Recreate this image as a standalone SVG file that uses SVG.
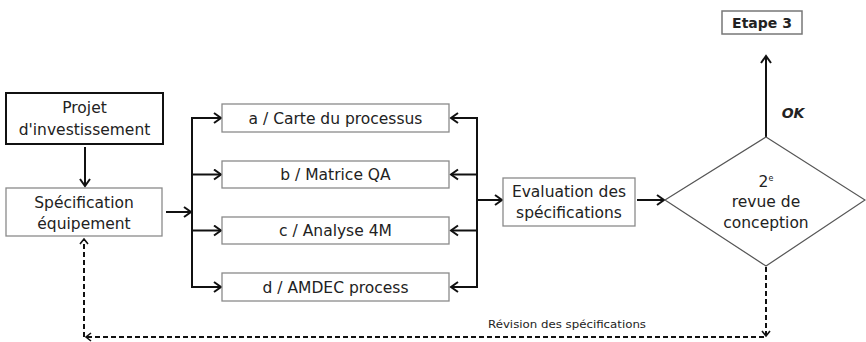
<svg xmlns="http://www.w3.org/2000/svg" width="866" height="342" viewBox="0 0 866 342">
<style>
text{font-family:"DejaVu Sans","Liberation Sans",sans-serif;fill:#222;text-anchor:middle}
.t{font-size:15.5px}
.box{fill:#fff;stroke:#8a8a8a;stroke-width:1.3}
.c{fill:none;stroke:#111;stroke-width:2}
.d{fill:none;stroke:#111;stroke-width:2;stroke-dasharray:5,3}
</style>
<defs>
<marker id="ah" markerUnits="userSpaceOnUse" markerWidth="14" markerHeight="14" refX="9" refY="6" orient="auto">
<path d="M2,1 L9,6 L2,11" fill="none" stroke="#111" stroke-width="2"/>
</marker>
<marker id="ahs" markerUnits="userSpaceOnUse" markerWidth="12" markerHeight="12" refX="7" refY="5" orient="auto">
<path d="M2,1 L7,5 L2,9" fill="none" stroke="#111" stroke-width="1.6"/>
</marker>
</defs>
<g id="connectors">
<line class="c" x1="85" y1="147" x2="85" y2="186" marker-end="url(#ah)"/>
<line class="c" x1="166" y1="212" x2="191" y2="212" marker-end="url(#ah)"/>
<line class="c" x1="192" y1="117" x2="192" y2="288"/>
<line class="c" x1="192" y1="118" x2="221" y2="118" marker-end="url(#ah)"/>
<line class="c" x1="192" y1="174.5" x2="221" y2="174.5" marker-end="url(#ah)"/>
<line class="c" x1="192" y1="230.5" x2="221" y2="230.5" marker-end="url(#ah)"/>
<line class="c" x1="192" y1="287" x2="221" y2="287" marker-end="url(#ah)"/>
<line class="c" x1="477" y1="117" x2="477" y2="288"/>
<line class="c" x1="477" y1="118" x2="451" y2="118" marker-end="url(#ah)"/>
<line class="c" x1="477" y1="174.5" x2="451" y2="174.5" marker-end="url(#ah)"/>
<line class="c" x1="477" y1="230.5" x2="451" y2="230.5" marker-end="url(#ah)"/>
<line class="c" x1="477" y1="287" x2="451" y2="287" marker-end="url(#ah)"/>
<line class="c" x1="477" y1="200" x2="502" y2="200" marker-end="url(#ah)"/>
<line class="c" x1="637" y1="200" x2="664" y2="200" marker-end="url(#ah)"/>
<line class="c" x1="766" y1="137" x2="766" y2="56" marker-end="url(#ah)"/>
<line class="d" x1="766" y1="267" x2="766" y2="336" marker-end="url(#ahs)"/>
<line class="d" x1="764" y1="337" x2="86" y2="337" marker-end="url(#ahs)"/>
<line class="d" x1="84" y1="337" x2="84" y2="239" marker-end="url(#ahs)"/>
<text x="567" y="328" style="font-size:10px" textLength="158" lengthAdjust="spacingAndGlyphs">Révision des spécifications</text>
<text x="793" y="118" style="font-size:14px;font-weight:bold;font-style:italic">OK</text>
</g>
<g id="projet">
<rect x="6" y="93" width="157" height="51" fill="#fff" stroke="#111" stroke-width="2"/>
<text class="t" x="84.5" y="113">Projet</text>
<text class="t" x="84.5" y="135">d'investissement</text>
</g>
<g id="specification">
<rect class="box" x="6" y="188" width="156" height="48"/>
<text class="t" x="84" y="208">Spécification</text>
<text class="t" x="84" y="229">équipement</text>
</g>
<g id="a">
<rect class="box" x="222" y="104" width="227" height="28"/>
<text class="t" x="335.5" y="123.5">a / Carte du processus</text>
</g>
<g id="b">
<rect class="box" x="222" y="161" width="227" height="27"/>
<text class="t" x="335.5" y="180">b / Matrice QA</text>
</g>
<g id="c">
<rect class="box" x="222" y="217" width="227" height="27"/>
<text class="t" x="335.5" y="236">c / Analyse 4M</text>
</g>
<g id="d">
<rect class="box" x="222" y="273" width="227" height="28"/>
<text class="t" x="335.5" y="292.5">d / AMDEC process</text>
</g>
<g id="evaluation">
<rect class="box" x="503" y="178" width="132" height="48"/>
<text class="t" x="569" y="197">Evaluation des</text>
<text class="t" x="569" y="218">spécifications</text>
</g>
<g id="revue">
<polygon points="766,137 865,200 766,266 665,200" fill="#fff" stroke="#555" stroke-width="1.2"/>
<text class="t" x="766" y="187">2<tspan style="font-size:8px" dy="-6">e</tspan></text>
<text class="t" x="766" y="207">revue de</text>
<text class="t" x="766" y="228">conception</text>
</g>
<g id="etape3">
<rect x="722" y="11" width="80" height="23" fill="#fff" stroke="#777" stroke-width="1.5"/>
<text x="762" y="28" style="font-size:14px;font-weight:bold">Etape 3</text>
</g>
</svg>
